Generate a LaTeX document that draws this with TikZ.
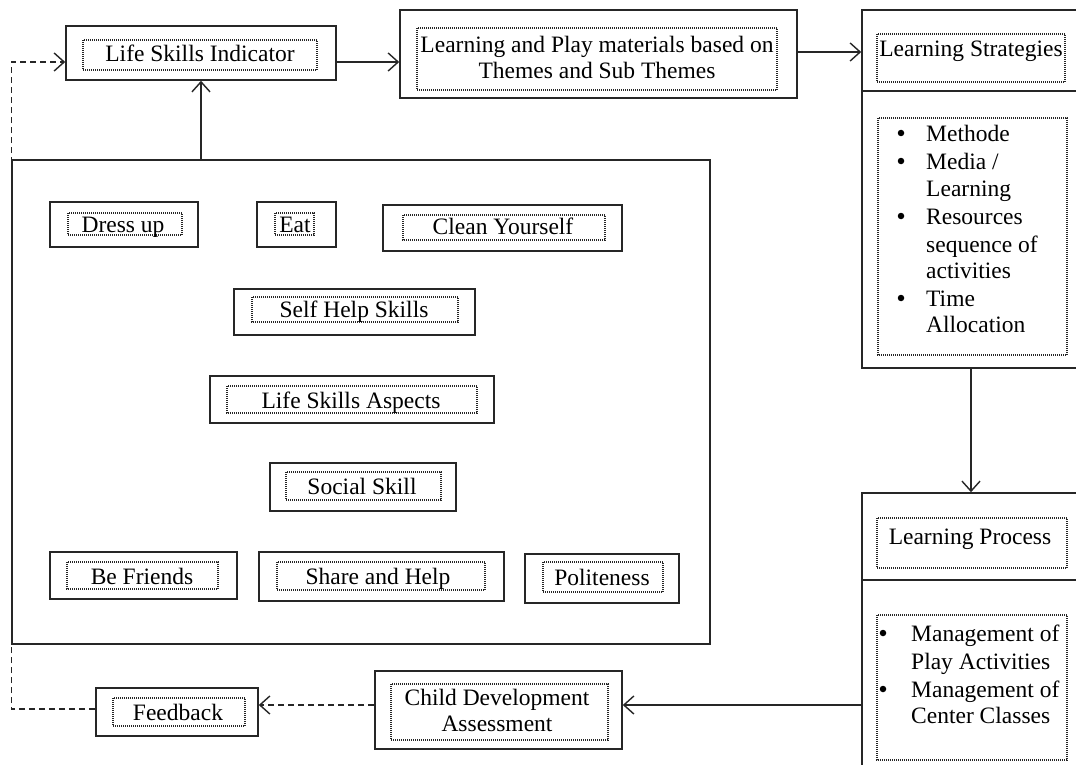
\documentclass[tikz,border=0pt]{standalone}
\usepackage{fontspec}
\setmainfont{Liberation Serif}
\usetikzlibrary{arrows.meta}
\tikzset{
  obox/.style={draw=black!85, line width=1.6pt, rectangle, inner sep=0pt},
  dotbox/.style={draw=black!85, line width=1.1pt, dash pattern=on 1pt off 1pt},
  lbl/.style={inner sep=0pt, font=\fontsize{23.5}{26}\selectfont, text=black},
  slbl/.style={lbl, text height=16pt, text depth=5pt, yshift=-2pt},
  lline/.style={slbl, anchor=west},
  bul/.style={circle, fill=black, inner sep=0pt, minimum size=6.5pt},
  arr/.style={line width=1.4pt, draw=black!85, -{Straight Barb[length=10pt,width=18pt,line width=1.4pt]}},
  darr/.style={arr, dash pattern=on 6pt off 4pt}
}
\begin{document}
\begin{tikzpicture}[x=1pt,y=-1pt]
\clip (0,0) rectangle (1076,765);
\fill[white] (0,0) rectangle (1076,765);

% big container
\node[obox, minimum width=698pt, minimum height=484pt] (big) at (361,402) {};

% Life Skills Indicator
\node[obox, minimum width=270pt, minimum height=54pt] (lsi) at (201,53) {};
\draw[dotbox] (83,40) rectangle (317,70);
\node[slbl] (lsit) at (200,54) {Life Skills Indicator};

% Learning and Play materials
\node[obox, minimum width=397pt, minimum height=88pt] (lp) at (598.5,54) {};
\draw[dotbox] (417,28) rectangle (777,90);
\node[lbl, align=center] (lpt) at (597,57) {Learning and Play materials based on\\Themes and Sub Themes};

% Learning Strategies
\node[obox, minimum width=218pt, minimum height=358pt] (ls) at (971,189) {};
\draw[line width=1.6pt, draw=black!85] (ls.west |- 0,91) -- (ls.east |- 0,91);
\draw[dotbox] (877,34) rectangle (1065,82);
\node[slbl] (lst) at (971,49) {Learning Strategies};
\draw[dotbox] (878,118) rectangle (1067,355);
\node[bul] (b1) at (901,133) {};
\node[bul] (b2) at (901,161) {};
\node[bul] (b3) at (901,216) {};
\node[bul] (b4) at (901,298) {};
\node[lline] (l1) at (926,134) {Methode};
\node[lline] (l2) at (926,162) {Media /};
\node[lline] (l3) at (926,189) {Learning};
\node[lline] (l4) at (926,217) {Resources};
\node[lline] (l5) at (926,245) {sequence of};
\node[lline] (l6) at (926,271) {activities};
\node[lline] (l7) at (926,299) {Time};
\node[lline] (l8) at (926,325) {Allocation};

% Learning Process
\node[obox, minimum width=218pt, minimum height=300pt] (lpr) at (971,643) {};
\draw[line width=1.6pt, draw=black!85] (lpr.west |- 0,580) -- (lpr.east |- 0,580);
\draw[dotbox] (877,518) rectangle (1067,568);
\node[slbl] (lprt) at (970,537) {Learning Process};
\draw[dotbox] (877,615) rectangle (1067,760);
\node[bul] (p1) at (883,633) {};
\node[bul] (p2) at (883,689) {};
\node[lline] (m1) at (911,634) {Management of};
\node[lline] (m2) at (911,662) {Play Activities};
\node[lline] (m3) at (911,690) {Management of};
\node[lline] (m4) at (911,716) {Center Classes};

% Child Development Assessment
\node[obox, minimum width=247pt, minimum height=78pt] (cda) at (498.5,710) {};
\draw[dotbox] (391,684) rectangle (608,740);
\node[lbl, align=center] (cdat) at (497,710) {Child Development\\Assessment};

% Feedback
\node[obox, minimum width=162pt, minimum height=48pt] (fb) at (177,712) {};
\draw[dotbox] (113,698) rectangle (245,726);
\node[slbl] (fbt) at (178,713) {Feedback};

% inner skill boxes
\node[obox, minimum width=148pt, minimum height=45pt] (dress) at (124,224.5) {};
\draw[dotbox] (68,213) rectangle (182,235);
\node[slbl] (dresst) at (123,225) {Dress up};

\node[obox, minimum width=79pt, minimum height=45pt] (eat) at (296.5,224.5) {};
\draw[dotbox] (275,213) rectangle (314,235);
\node[slbl] (eatt) at (295,225) {Eat};

\node[obox, minimum width=239pt, minimum height=46pt] (clean) at (502.5,228) {};
\draw[dotbox] (403,215) rectangle (605,240);
\node[slbl] (cleant) at (503,227) {Clean Yourself};

\node[obox, minimum width=241pt, minimum height=46pt] (self) at (354.5,312) {};
\draw[dotbox] (252,297) rectangle (458,322);
\node[slbl] (selft) at (354,310) {Self Help Skills};

\node[obox, minimum width=284pt, minimum height=47pt] (asp) at (352,399.5) {};
\draw[dotbox] (227,386) rectangle (477,413);
\node[slbl] (aspt) at (351,401) {Life Skills Aspects};

\node[obox, minimum width=186pt, minimum height=48pt] (soc) at (363,487) {};
\draw[dotbox] (286,472) rectangle (441,500);
\node[slbl] (soct) at (362,487) {Social Skill};

\node[obox, minimum width=187pt, minimum height=47pt] (bef) at (143.5,575.5) {};
\draw[dotbox] (67,562) rectangle (218,589);
\node[slbl] (beft) at (142,577) {Be Friends};

\node[obox, minimum width=245pt, minimum height=49pt] (share) at (381.5,576.5) {};
\draw[dotbox] (277,562) rectangle (485,590);
\node[slbl] (sharet) at (378,577) {Share and Help};

\node[obox, minimum width=154pt, minimum height=49pt] (pol) at (602,578.5) {};
\draw[dotbox] (543,562) rectangle (663,592);
\node[slbl] (polt) at (602,578) {Politeness};

% connectors
\draw[arr] ([yshift=-9pt]lsi.east) -- ([yshift=-9pt]lsi.east -| lp.west);
\draw[arr] ([yshift=2pt]lp.east) -- ([yshift=2pt]lp.east -| ls.west);
\draw[arr] (ls.south) -- (lpr.north);
\draw[arr] ([yshift=5pt]cda.east -| lpr.west) -- ([yshift=5pt]cda.east);
\draw[darr] ([yshift=5pt]cda.west) -- ([yshift=5pt]cda.west -| fb.east);
\draw[darr] ([yshift=3pt]fb.west) -- ++(-84,0) |- ([yshift=-9pt]lsi.west);
\draw[arr] (lsi.south |- big.north) -- (lsi.south);
\end{tikzpicture}
\end{document}
